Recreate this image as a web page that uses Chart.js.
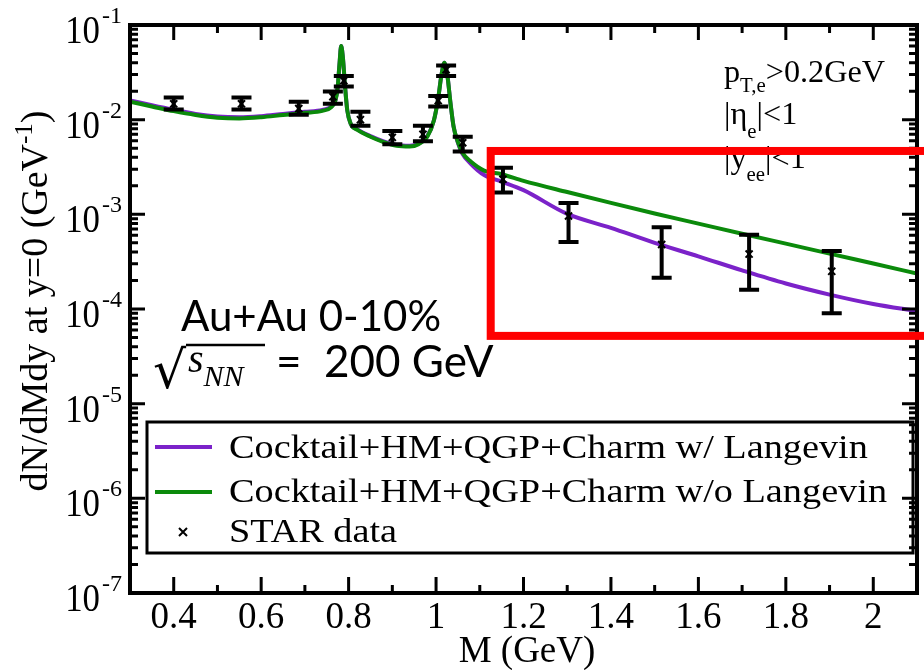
<!DOCTYPE html>
<html>
<head>
<meta charset="utf-8">
<script src="https://cdn.jsdelivr.net/npm/chart.js@4.4.0/dist/chart.umd.min.js"></script>
<style>
  html, body { margin: 0; padding: 0; background: #fff; }
  canvas { display: block; }
</style>
</head>
<body>
<canvas id="spectrum" width="924" height="670"></canvas>
<script>
// invariant mass grid (GeV) for the model curves
const massGrid = [0.30, 0.35, 0.40, 0.45, 0.50, 0.55, 0.60, 0.65, 0.70, 0.74, 0.76, 0.77,
    0.775, 0.779, 0.783, 0.787, 0.792, 0.797, 0.805, 0.82, 0.85, 0.88, 0.91, 0.94, 0.96,
    0.98, 0.995, 1.005, 1.012, 1.019, 1.026, 1.033, 1.04, 1.05, 1.06, 1.08, 1.11, 1.15,
    1.2, 1.3, 1.4, 1.5, 1.6, 1.7, 1.8, 1.9, 2.0, 2.1];

// Cocktail+HM+QGP+Charm, charm with Langevin diffusion
const withLangevin = [0.0160, 0.0142, 0.0127, 0.0115, 0.0108, 0.0106, 0.0109, 0.0115, 0.0121, 0.0127, 0.0137, 0.0161,
    0.022, 0.038, 0.060, 0.045, 0.022, 0.0125, 0.0090, 0.0079, 0.0067, 0.0059, 0.0054, 0.0053, 0.0056,
    0.0067, 0.0098, 0.017, 0.029, 0.040, 0.029, 0.015, 0.0085, 0.0057, 0.0044, 0.0034, 0.0026, 0.00222,
    0.00180, 0.00101, 0.00072, 0.00050, 0.00036, 0.000256, 0.000186, 0.000142, 0.000113, 0.000095];

// Cocktail+HM+QGP+Charm, charm without Langevin diffusion
const withoutLangevin = [0.0155, 0.0138, 0.0123, 0.0112, 0.0105, 0.0103, 0.0106, 0.0112, 0.0118, 0.0124, 0.0135, 0.0160,
    0.022, 0.038, 0.060, 0.045, 0.022, 0.0125, 0.0090, 0.0078, 0.0066, 0.0058, 0.0053, 0.0052, 0.0055,
    0.0066, 0.0098, 0.017, 0.029, 0.040, 0.029, 0.015, 0.0085, 0.0058, 0.0045, 0.0036, 0.0029, 0.00265,
    0.00226, 0.00172, 0.00132, 0.00102, 0.000798, 0.000624, 0.00049, 0.000385, 0.000302, 0.000237];

// STAR Au+Au 0-10% dielectrons
const starMass = [0.40, 0.555, 0.686, 0.764, 0.789, 0.827, 0.90, 0.97, 1.005, 1.023, 1.061,
    1.153, 1.303, 1.516, 1.716, 1.905];
const starYield = [0.0147, 0.0147, 0.0131, 0.0175, 0.0258, 0.0100, 0.0065, 0.0070, 0.0159, 0.0337, 0.0057,
    0.00235, 0.00096, 0.00048, 0.00038, 0.00025];
const starHigh = [0.0171, 0.0171, 0.0155, 0.0199, 0.0289, 0.0121, 0.0076, 0.0086, 0.0178, 0.0373, 0.0066,
    0.0031, 0.00132, 0.00073, 0.00061, 0.00041];
const starLow = [0.0128, 0.0128, 0.0113, 0.0147, 0.0224, 0.0086, 0.0055, 0.0059, 0.0138, 0.0289, 0.0046,
    0.0017, 0.00051, 0.000214, 0.00016, 0.00009];

// axes
const xMajorTicks = [0.4, 0.6, 0.8, 1.0, 1.2, 1.4, 1.6, 1.8, 2.0];
const xTickLabels = ['0.4', '0.6', '0.8', '1', '1.2', '1.4', '1.6', '1.8', '2'];
const xMinorTicks = [0.5, 0.7, 0.9, 1.1, 1.3, 1.5, 1.7, 1.9];
const yDecades = [-1, -2, -3, -4, -5, -6, -7];

// zoomed high-mass region
const boxMass = [1.125, 2.13];
const boxYield = [5.2e-5, 0.00467];

const purple = '#7b22c9';
const green = '#0b8a0b';
const serif = '"Liberation Serif", "Times New Roman", serif';
const sans = 'Lato, "Open Sans", sans-serif';

function drawRuns(ctx, runs, x, y, align) {
    let w = 0;
    runs.forEach(r => { ctx.font = r.font; w += ctx.measureText(r.t).width * (r.sx || 1); });
    let cx = align === 'center' ? x - w / 2 : (align === 'right' ? x - w : x);
    runs.forEach(r => {
        ctx.save();
        ctx.font = r.font;
        ctx.translate(cx, y + (r.dy || 0));
        ctx.scale(r.sx || 1, 1);
        ctx.textAlign = 'left';
        ctx.fillStyle = r.color || '#000';
        ctx.fillText(r.t, 0, 0);
        const adv = ctx.measureText(r.t).width * (r.sx || 1);
        ctx.restore();
        cx += adv;
    });
}

const errorBars = {
    id: 'errorBars',
    afterDatasetsDraw(chart) {
        const ctx = chart.ctx, xs = chart.scales.x, ys = chart.scales.y;
        ctx.save();
        ctx.strokeStyle = '#000';
        ctx.lineWidth = 4;
        ctx.lineCap = 'butt';
        starMass.forEach((m, i) => {
            const px = xs.getPixelForValue(m);
            const yh = ys.getPixelForValue(starHigh[i]);
            const yl = ys.getPixelForValue(starLow[i]);
            ctx.beginPath();
            ctx.moveTo(px, yh); ctx.lineTo(px, yl);
            ctx.moveTo(px - 10, yh); ctx.lineTo(px + 10, yh);
            ctx.moveTo(px - 10, yl); ctx.lineTo(px + 10, yl);
            ctx.stroke();
        });
        ctx.restore();
    }
};

const frameAndLabels = {
    id: 'frameAndLabels',
    afterDraw(chart) {
        const ctx = chart.ctx, xs = chart.scales.x, ys = chart.scales.y;
        const a = chart.chartArea;
        ctx.save();
        ctx.strokeStyle = '#000';

        // ticks, pointing inwards on all four sides
        ctx.lineWidth = 3;
        ctx.beginPath();
        xMajorTicks.forEach(v => {
            const px = xs.getPixelForValue(v);
            ctx.moveTo(px, a.bottom); ctx.lineTo(px, a.bottom - 16);
            ctx.moveTo(px, a.top); ctx.lineTo(px, a.top + 15);
        });
        xMinorTicks.forEach(v => {
            const px = xs.getPixelForValue(v);
            ctx.moveTo(px, a.bottom); ctx.lineTo(px, a.bottom - 8);
            ctx.moveTo(px, a.top); ctx.lineTo(px, a.top + 8);
        });
        yDecades.forEach(e => {
            const py = ys.getPixelForValue(Math.pow(10, e));
            ctx.moveTo(a.left, py); ctx.lineTo(a.left + 15, py);
            ctx.moveTo(a.right, py); ctx.lineTo(a.right - 15, py);
            if (e > -7) {
                for (let k = 2; k <= 9; k++) {
                    const pm = ys.getPixelForValue(k * Math.pow(10, e - 1));
                    ctx.moveTo(a.left, pm); ctx.lineTo(a.left + 8, pm);
                    ctx.moveTo(a.right, pm); ctx.lineTo(a.right - 8, pm);
                }
            }
        });
        ctx.stroke();

        ctx.lineWidth = 4;
        ctx.strokeRect(a.left, a.top, a.right - a.left, a.bottom - a.top);

        // tick labels
        ctx.fillStyle = '#000';
        xMajorTicks.forEach((v, i) => {
            drawRuns(ctx, [{ t: xTickLabels[i], font: '37px ' + serif }], xs.getPixelForValue(v), 628, 'center');
        });
        yDecades.forEach(e => {
            const py = ys.getPixelForValue(Math.pow(10, e));
            drawRuns(ctx, [{ t: '10', font: '40px ' + serif, sx: 0.87 }], 100, py + 18, 'right');
            drawRuns(ctx, [{ t: '-' + (-e), font: '24px ' + serif }], 102, py - 2, 'left');
        });

        // axis titles
        drawRuns(ctx, [{ t: 'M (GeV)', font: '37px ' + serif }], 527, 662, 'center');
        ctx.save();
        ctx.translate(47, 301);
        ctx.rotate(-Math.PI / 2);
        drawRuns(ctx, [
            { t: 'dN/dMdy at y=0 (GeV', font: '38px ' + serif },
            { t: '-1', font: '25px ' + serif, dy: -15 },
            { t: ')', font: '38px ' + serif }
        ], 0, 0, 'center');
        ctx.restore();

        // kinematic cuts
        drawRuns(ctx, [
            { t: 'p', font: '31px ' + serif, sx: 1.04 },
            { t: 'T,e', font: '20px ' + serif, dy: 10, sx: 1.04 },
            { t: '>0.2GeV', font: '31px ' + serif, sx: 1.04 }
        ], 724, 82, 'left');
        drawRuns(ctx, [
            { t: '|\u03b7', font: '31px ' + serif, sx: 1.04 },
            { t: 'e', font: '20px ' + serif, dy: 14, sx: 1.04 },
            { t: '|<1', font: '31px ' + serif, sx: 1.04 }
        ], 724, 124, 'left');
        drawRuns(ctx, [
            { t: '|y', font: '31px ' + serif, sx: 1.04 },
            { t: 'ee', font: '20px ' + serif, dy: 13, sx: 1.04 },
            { t: '|<1', font: '31px ' + serif, sx: 1.04 }
        ], 724, 168, 'left');

        // collision system
        drawRuns(ctx, [{ t: 'Au+Au 0-10%', font: '42px ' + sans }], 181, 331, 'left');
        drawRuns(ctx, [{ t: '\u221a', font: '52px "DejaVu Serif", serif' }], 153, 388, 'left');
        ctx.lineWidth = 2.5;
        ctx.beginPath();
        ctx.moveTo(186, 345); ctx.lineTo(265, 345);
        ctx.stroke();
        drawRuns(ctx, [
            { t: 's', font: 'italic 40px ' + serif },
            { t: 'NN', font: 'italic 30px ' + serif, dy: 14 }
        ], 188, 372, 'left');
        drawRuns(ctx, [{ t: '=  200 GeV', font: '44px ' + sans }], 276, 377, 'left');

        // legend
        const ds = chart.data.datasets;
        ctx.lineWidth = 3;
        ctx.strokeRect(147, 422, 766, 131);
        ctx.lineWidth = 4;
        [[0, 447], [1, 492]].forEach(([k, y]) => {
            ctx.strokeStyle = ds[k].borderColor;
            ctx.beginPath();
            ctx.moveTo(155, y); ctx.lineTo(212, y);
            ctx.stroke();
        });
        ctx.strokeStyle = '#000';
        ctx.lineWidth = 2;
        ctx.beginPath();
        ctx.moveTo(179, 528); ctx.lineTo(187, 536);
        ctx.moveTo(187, 528); ctx.lineTo(179, 536);
        ctx.stroke();
        [458, 502, 542].forEach((y, k) => {
            drawRuns(ctx, [{ t: ds[k].label, font: '33px ' + serif, sx: 1.16 }], 229, y, 'left');
        });

        // highlighted high-mass window
        ctx.strokeStyle = '#ff0000';
        ctx.lineWidth = 8;
        const bx0 = xs.getPixelForValue(boxMass[0]), bx1 = xs.getPixelForValue(boxMass[1]);
        const by0 = ys.getPixelForValue(boxYield[1]), by1 = ys.getPixelForValue(boxYield[0]);
        ctx.strokeRect(bx0, by0, bx1 - bx0, by1 - by0);
        ctx.restore();
    }
};

new Chart(document.getElementById('spectrum'), {
    type: 'line',
    data: {
        datasets: [
            {
                label: 'Cocktail+HM+QGP+Charm w/ Langevin',
                data: massGrid.map((m, i) => ({ x: m, y: withLangevin[i] })),
                borderColor: purple,
                borderWidth: 4,
                pointRadius: 0,
                cubicInterpolationMode: 'monotone',
                fill: false,
                order: 2
            },
            {
                label: 'Cocktail+HM+QGP+Charm w/o Langevin',
                data: massGrid.map((m, i) => ({ x: m, y: withoutLangevin[i] })),
                borderColor: green,
                borderWidth: 4,
                pointRadius: 0,
                cubicInterpolationMode: 'monotone',
                fill: false,
                order: 1
            },
            {
                label: 'STAR data',
                data: starMass.map((m, i) => ({ x: m, y: starYield[i] })),
                showLine: false,
                pointStyle: 'crossRot',
                pointRadius: 5,
                borderColor: '#000',
                borderWidth: 2,
                order: 0
            }
        ]
    },
    options: {
        responsive: false,
        animation: false,
        devicePixelRatio: 1,
        layout: { padding: { left: 130, right: 2, top: 25, bottom: 77 } },
        plugins: {
            legend: { display: false },
            tooltip: { enabled: false }
        },
        scales: {
            x: { type: 'linear', min: 0.3, max: 2.1, display: false },
            y: { type: 'logarithmic', min: 1e-7, max: 1e-1, display: false }
        }
    },
    plugins: [errorBars, frameAndLabels]
});
</script>
</body>
</html>
